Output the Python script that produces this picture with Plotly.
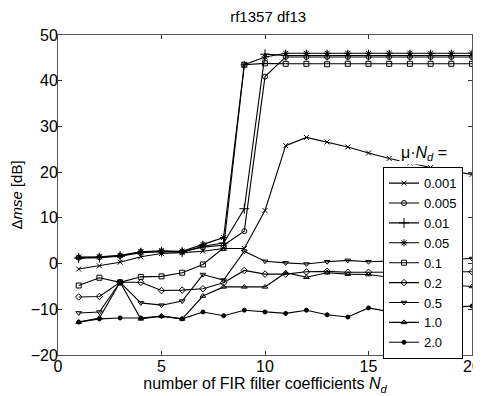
import plotly.graph_objects as go

x_vals = list(range(1, 21))
mu_labels = ["0.001", "0.005", "0.01", "0.05", "0.1", "0.2", "0.5", "1.0", "2.0"]

s_0001 = [-1.2, -0.5, 0.3, 1.5, 2.2, 2.4, 2.7, 3.3, 3.3, 11.6, 25.8, 27.6, 26.6, 25.5, 24.2, 23.0, 22.0, 21.0, 20.2, 19.5]
s_0005 = [1.3, 1.4, 1.7, 2.5, 2.7, 2.6, 3.6, 4.0, 7.1, 40.9, 45.2, 45.2, 45.2, 45.2, 45.2, 45.2, 45.2, 45.2, 45.2, 45.2]
s_001 = [1.2, 1.3, 1.6, 2.4, 2.6, 2.5, 3.8, 4.5, 12.0, 45.8, 45.5, 45.5, 45.5, 45.5, 45.5, 45.5, 45.5, 45.5, 45.5, 45.5]
s_005 = [1.4, 1.5, 1.8, 2.6, 2.8, 2.7, 4.2, 5.7, 43.5, 45.2, 46.0, 46.0, 46.0, 46.0, 46.0, 46.0, 46.0, 46.0, 46.0, 46.0]
s_01 = [-4.8, -3.1, -4.1, -2.9, -2.8, -2.0, -0.2, 3.4, 43.5, 43.8, 43.7, 43.7, 43.6, 43.7, 43.7, 43.7, 43.7, 43.7, 43.7, 43.7]
s_02 = [-7.3, -7.2, -4.1, -4.1, -5.9, -5.8, -5.5, -4.2, -1.5, -2.3, -2.3, -1.8, -1.7, -1.9, -1.9, -1.9, -1.8, -1.8, -1.8, -1.8]
s_05 = [-10.8, -10.6, -4.1, -8.6, -9.1, -8.2, -2.4, -3.6, 2.7, 0.5, 0.15, -0.1, 0.4, 0.7, 0.4, 0.6, 0.7, 0.8, 0.9, 1.1]
s_10 = [-12.8, -11.9, -4.1, -12.1, -11.5, -12.1, -7.1, -5.1, -5.1, -5.1, -2.0, -3.0, -2.0, -2.3, -2.4, -3.0, -3.8, -4.3, -4.7, -5.0]
s_20 = [-12.8, -12.1, -11.9, -11.9, -11.5, -12.1, -10.6, -11.4, -10.2, -10.6, -10.9, -10.2, -11.2, -11.7, -9.7, -10.5, -10.0, -9.8, -9.5, -9.3]

series = [s_0001, s_0005, s_001, s_005, s_01, s_02, s_05, s_10, s_20]
symbols = ["x-thin-open", "circle-open", "cross-thin-open", "asterisk-open", "square-open",
           "diamond-open", "triangle-down-open", "triangle-up-open", "circle"]
sizes = [5, 5, 7, 6, 5, 5, 5, 5, 4]

fig = go.Figure()
for lab, ys, sym, sz in zip(mu_labels, series, symbols, sizes):
    fig.add_trace(go.Scatter(
        x=x_vals, y=ys, name=lab, mode="lines+markers",
        line=dict(color="black", width=1.1),
        marker=dict(symbol=sym, size=sz, color="black", line=dict(color="black", width=1)),
    ))

axis_common = dict(showline=True, linecolor="#555555", linewidth=1, mirror="ticks",
                   ticks="inside", ticklen=4, tickcolor="#333333", showgrid=False,
                   zeroline=False, automargin=True, tickfont=dict(size=16, color="black"))

# the page body adds an 8 px offset; margins compensate for it
fig.update_layout(
    width=473, height=388,
    margin=dict(l=50, r=9, t=27, b=41, autoexpand=False),
    paper_bgcolor="white", plot_bgcolor="white",
    font=dict(family="Liberation Sans, Arial, sans-serif", color="black"),
    title=dict(text="rf1357 df13", x=0.55, xanchor="center", y=0.99, yanchor="top",
               font=dict(size=15)),
    xaxis=dict(range=[0, 20], tickvals=[0, 5, 10, 15, 20], ticklabelstandoff=-3,
               title=dict(text="number of FIR filter coefficients <i>N</i><sub><i>d</i></sub>",
                          font=dict(size=16), standoff=3),
               **axis_common),
    yaxis=dict(range=[-20, 50], tickvals=[-20, -10, 0, 10, 20, 30, 40, 50], ticklabelstandoff=-4,
               title=dict(text="Δ<i>mse</i> [dB]", font=dict(size=15), standoff=8),
               **axis_common),
    legend=dict(x=0.785, y=0.587, xanchor="left", yanchor="top",
                bgcolor="white", bordercolor="black", borderwidth=1,
                font=dict(size=13), itemwidth=30, tracegroupgap=0),
    showlegend=True,
)

fig.add_annotation(x=0.945, y=0.63, xref="paper", yref="paper", xanchor="right", yanchor="middle",
                   text="μ·<i>N</i><sub><i>d</i></sub> =", showarrow=False,
                   font=dict(size=16), bgcolor="white")

fig.write_html("out.html")
